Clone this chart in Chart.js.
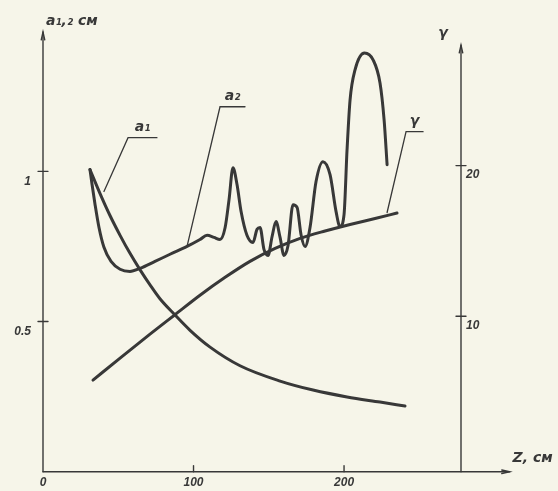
<!DOCTYPE html>
<html><head><meta charset="utf-8">
<script src="https://cdn.jsdelivr.net/npm/chart.js@4/dist/chart.umd.min.js"></script>
<style>html,body{margin:0;padding:0;background:#f6f5e9;}canvas{display:block}</style>
</head><body>
<canvas id="c" width="558" height="491" style="width:558px;height:491px"></canvas>
<script>
// ---- data (Z in cm, a in cm, gamma dimensionless) ----
const a1Z      = [31.2, 37.9, 44.5, 51.2, 57.8, 64.5, 71.1, 77.7, 87.7, 97.7, 111.0, 130.9, 157.5, 179.4, 202.0, 223.9, 240.5];
const a1Values = [1.006, 0.926, 0.853, 0.787, 0.727, 0.672, 0.622, 0.576, 0.522, 0.471, 0.415, 0.353, 0.302, 0.272, 0.249, 0.232, 0.219];

const a2Z      = [31.2, 32.6, 34.6, 37.2, 40.5, 45.2, 51.2, 57.8, 64.5, 74.4, 84.4, 95.7, 104.3, 109.0, 113.6, 117.6, 121.0, 123.6, 126.2, 128.9, 131.6, 135.5, 139.5, 142.2, 144.2, 146.8, 149.5, 152.2, 154.8, 157.5, 160.1, 162.8, 166.1, 168.8, 171.4, 174.1, 177.4, 181.4, 186.0, 190.7, 194.7, 197.3, 200.0, 202.0, 204.0, 207.3, 213.6, 219.3, 223.9, 226.6, 228.6];
const a2Values = [1.006, 0.956, 0.889, 0.813, 0.747, 0.700, 0.674, 0.667, 0.677, 0.700, 0.724, 0.750, 0.773, 0.787, 0.780, 0.773, 0.813, 0.906, 1.012, 0.956, 0.866, 0.787, 0.763, 0.807, 0.813, 0.740, 0.720, 0.783, 0.833, 0.780, 0.720, 0.753, 0.889, 0.880, 0.790, 0.750, 0.813, 0.966, 1.032, 0.989, 0.866, 0.816, 0.856, 1.072, 1.238, 1.338, 1.394, 1.371, 1.294, 1.172, 1.022];

const gammaZ      = [33.2, 51.2, 71.1, 87.7, 104.3, 121.0, 137.5, 154.2, 170.8, 187.4, 204.0, 220.6, 235.2];
const gammaValues = [5.76, 7.22, 8.81, 10.10, 11.39, 12.58, 13.64, 14.50, 15.17, 15.66, 16.09, 16.49, 16.85];

const xTicks = [0, 100, 200];
const aTicks = [0.5, 1];
const aTickLabels = ['0.5', '1'];
const gammaTicks = [10, 20];

// curve callouts: label, underline start (Z,a), underline end Z, pointer target (Z,a)
const callouts = [
  {text: 'a\u2081', z0: 56.5, a0: 1.112, z1: 75.7, tz: 40.5, ta: 0.933},
  {text: 'a\u2082', z0: 117.6, a0: 1.215, z1: 134.2, tz: 95.7, ta: 0.750},
  {text: '\u03b3', z0: 241.2, a0: 1.132, z1: 252.5, tz: 228.6, ta: 0.863}
];

const ink = '#383838';
const paper = '#f6f5e9';
const pts = (xs, ys) => xs.map((x, i) => ({x, y: ys[i]}));

function arrowLine(ctx, x1, y1, x2, y2) {
  ctx.beginPath(); ctx.moveTo(x1, y1); ctx.lineTo(x2, y2); ctx.stroke();
  const ang = Math.atan2(y2 - y1, x2 - x1), L = 8, w = 0.22;
  ctx.beginPath();
  ctx.moveTo(x2 - L * Math.cos(ang - w), y2 - L * Math.sin(ang - w));
  ctx.lineTo(x2, y2);
  ctx.lineTo(x2 - L * Math.cos(ang + w), y2 - L * Math.sin(ang + w));
  ctx.stroke();
}

const deco = {
  id: 'deco',
  beforeDraw(chart) {
    const ctx = chart.ctx;
    ctx.save(); ctx.fillStyle = paper; ctx.fillRect(0, 0, chart.width, chart.height); ctx.restore();
  },
  beforeDatasetsDraw(chart) {
    const {ctx, chartArea: ca, scales: {x, y, y2}} = chart;
    ctx.save();
    ctx.strokeStyle = ink; ctx.lineWidth = 1.4; ctx.lineCap = 'round';
    const x0 = x.getPixelForValue(0), yb = y.getPixelForValue(0);
    const xr = ca.right;
    arrowLine(ctx, x0, yb, x0, ca.top);                         // left axis
    arrowLine(ctx, xr, yb, xr, y2.getPixelForValue(28));        // right axis
    arrowLine(ctx, x0, yb, x.getPixelForValue(310), yb);        // Z axis
    // tick marks
    aTicks.forEach(v => { const p = y.getPixelForValue(v); ctx.beginPath(); ctx.moveTo(x0 - 5, p); ctx.lineTo(x0 + 5, p); ctx.stroke(); });
    gammaTicks.forEach(v => { const p = y2.getPixelForValue(v); ctx.beginPath(); ctx.moveTo(xr - 5, p); ctx.lineTo(xr + 5, p); ctx.stroke(); });
    xTicks.slice(1).forEach(v => { const p = x.getPixelForValue(v); ctx.beginPath(); ctx.moveTo(p, yb); ctx.lineTo(p, yb - 6); ctx.stroke(); });
    // axis titles
    ctx.fillStyle = ink;
    ctx.textBaseline = 'middle';
    ctx.font = 'italic bold 14px "DejaVu Sans"';
    ctx.textAlign = 'left';
    ctx.fillText('a\u2081,\u2082 см', x0 + 3, ca.top - 11);
    ctx.textAlign = 'center';
    ctx.fillText('\u03b3', xr - 18, ca.top + 1);
    ctx.textAlign = 'left';
    ctx.fillText('Z, см', x.getPixelForValue(310) + 3, yb - 13);
    // callouts
    ctx.lineWidth = 1.3;
    callouts.forEach(c => {
      const px0 = x.getPixelForValue(c.z0), py0 = y.getPixelForValue(c.a0);
      const px1 = x.getPixelForValue(c.z1);
      const tx = x.getPixelForValue(c.tz), ty = y.getPixelForValue(c.ta);
      ctx.beginPath(); ctx.moveTo(tx, ty); ctx.lineTo(px0, py0); ctx.lineTo(px1, py0); ctx.stroke();
      ctx.textAlign = 'center';
      ctx.font = 'italic bold 14px "DejaVu Sans"';
      ctx.fillText(c.text, (px0 + px1) / 2, py0 - 10);
    });
    ctx.restore();
  }
};

const tickFont = {family: '"Liberation Sans"', size: 12, style: 'italic', weight: 'bold'};

new Chart(document.getElementById('c'), {
  type: 'scatter',
  data: {
    datasets: [
      {label: 'a1', data: pts(a1Z, a1Values), yAxisID: 'y'},
      {label: 'a2', data: pts(a2Z, a2Values), yAxisID: 'y'},
      {label: 'gamma', data: pts(gammaZ, gammaValues), yAxisID: 'y2'}
    ].map(d => Object.assign(d, {showLine: true, borderColor: ink, borderWidth: 3, pointRadius: 0,
      cubicInterpolationMode: 'monotone', borderCapStyle: 'round', borderJoinStyle: 'round', fill: false}))
  },
  options: {
    responsive: false, animation: false, devicePixelRatio: 1,
    layout: {padding: {top: 32, left: 0, right: 0, bottom: 0}},
    plugins: {legend: {display: false}, tooltip: {enabled: false}},
    scales: {
      x: {
        type: 'linear', position: 'bottom', min: 0, max: 277.7,
        afterBuildTicks: s => { s.ticks = xTicks.map(v => ({value: v})); },
        afterFit: s => { s.height = 18; },
        grid: {display: false, drawTicks: false}, border: {display: false},
        ticks: {padding: 4, color: ink, font: tickFont, callback: v => String(v), maxRotation: 0}
      },
      y: {
        type: 'linear', position: 'left', min: 0, max: 1.4637,
        afterBuildTicks: s => { s.ticks = aTicks.map(v => ({value: v})); },
        afterFit: s => { s.width = 43; },
        grid: {display: false, drawTicks: false}, border: {display: false},
        ticks: {padding: 12, labelOffset: 10, color: ink, font: tickFont,
          callback: v => aTickLabels[aTicks.indexOf(v)]}
      },
      y2: {
        type: 'linear', position: 'right', min: -0.33, max: 28.87,
        afterBuildTicks: s => { s.ticks = gammaTicks.map(v => ({value: v})); },
        afterFit: s => { s.width = 97; },
        grid: {display: false, drawTicks: false}, border: {display: false},
        ticks: {padding: 5, labelOffset: 9, color: ink, font: tickFont, callback: v => String(v)}
      }
    }
  },
  plugins: [deco]
});
</script>
</body></html>
